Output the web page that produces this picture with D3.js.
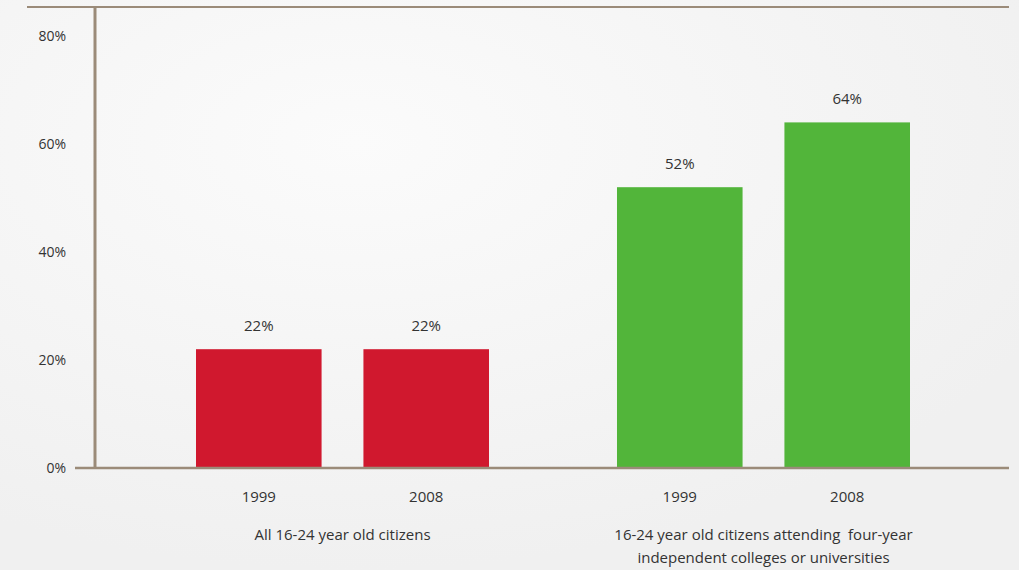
<!DOCTYPE html>
<html>
<head>
<meta charset="utf-8">
<script src="https://cdn.jsdelivr.net/npm/d3@7"></script>
<style>
  body { margin: 0; background: #f3f3f3; }
  text { font-family: "Open Sans", sans-serif; fill: #333; }
</style>
</head>
<body>
<div id="chart"></div>
<script>
// data

var groups = ["All 16-24 year old citizens",
  "16-24 year old citizens attending  four-year|independent colleges or universities"];
var years = ["1999", "2008"];
var values = [[22, 22], [52, 64]];
var colors = ["#d0182e", "#52b53a"];
var yticks = [0, 20, 40, 60, 80];

// settings

var svgWidth = 1019;
var svgHeight = 570;

var svg = d3.select("#chart")
  .append("svg")
  .attr("width", svgWidth)
  .attr("height", svgHeight);

// soft background
var defs = svg.append("defs");
var grad = defs.append("radialGradient")
  .attr("id", "bg")
  .attr("cx", "35%").attr("cy", "25%").attr("r", "75%");
grad.append("stop").attr("offset", "0%").attr("stop-color", "#fbfbfb");
grad.append("stop").attr("offset", "100%").attr("stop-color", "#f0f0f0");
svg.append("rect")
  .attr("width", svgWidth)
  .attr("height", svgHeight)
  .attr("fill", "url(#bg)");

var axisColor = "#9b8b79";

// scales

var y = d3.scaleLinear()
  .domain([0, 80])
  .range([468, 36]);

var x0 = d3.scaleBand()
  .domain(d3.range(groups.length))
  .range([196, 910])
  .paddingInner(0.304)
  .paddingOuter(0);

var x1 = d3.scaleBand()
  .domain(years)
  .range([0, x0.bandwidth()])
  .paddingInner(0.25)
  .paddingOuter(0);

// frame lines

svg.append("line")
  .attr("x1", 27).attr("x2", 1009)
  .attr("y1", 7).attr("y2", 7)
  .attr("stroke", axisColor)
  .attr("stroke-width", 2);

svg.append("line")
  .attr("x1", 95).attr("x2", 95)
  .attr("y1", 7).attr("y2", y(0))
  .attr("stroke", axisColor)
  .attr("stroke-width", 3);

// y tick labels

var left = d3.axisLeft(y)
  .tickValues(yticks)
  .tickFormat(d => d + "%")
  .tickSize(0)
  .tickPadding(0);

var yaxis = svg.append("g")
  .attr("transform", "translate(66, 0)")
  .call(left);
yaxis.select(".domain").remove();
yaxis.selectAll("text")
  .style("font-size", "14px")
  .style("font-family", "'Open Sans', sans-serif")
  .attr("fill", "#333");

// bars

var groupg = svg.selectAll(".grp")
  .data(values)
  .enter()
  .append("g")
  .attr("class", "grp")
  .attr("transform", (d, i) => `translate(${x0(i)}, 0)`);

groupg.selectAll("rect")
  .data((d, i) => d.map(v => ({ v: v, g: i })))
  .enter()
  .append("rect")
  .attr("x", (d, j) => x1(years[j]))
  .attr("y", d => y(d.v))
  .attr("width", x1.bandwidth())
  .attr("height", d => y(0) - y(d.v))
  .attr("fill", d => colors[d.g]);

// value labels

groupg.selectAll(".val")
  .data(d => d)
  .enter()
  .append("text")
  .attr("class", "val")
  .attr("x", (d, j) => x1(years[j]) + x1.bandwidth() / 2)
  .attr("y", d => y(d) - 18)
  .attr("text-anchor", "middle")
  .style("font-size", "15px")
  .text(d => d + "%");

// year labels

groupg.selectAll(".yr")
  .data(years)
  .enter()
  .append("text")
  .attr("class", "yr")
  .attr("x", d => x1(d) + x1.bandwidth() / 2)
  .attr("y", 502)
  .attr("text-anchor", "middle")
  .style("font-size", "15px")
  .text(d => d);

// group labels

groupg.each(function (d, i) {
  var lines = groups[i].split("|");
  var t = d3.select(this).append("text")
    .attr("text-anchor", "middle")
    .style("font-size", "15px");
  lines.forEach((l, k) => {
    t.append("tspan")
      .attr("x", x0.bandwidth() / 2)
      .attr("y", 540 + k * 23)
      .attr("xml:space", "preserve")
      .text(l);
  });
});

// baseline

svg.append("line")
  .attr("x1", 75).attr("x2", 1009)
  .attr("y1", y(0)).attr("y2", y(0))
  .attr("stroke", axisColor)
  .attr("stroke-width", 2.5);
</script>
</body>
</html>
